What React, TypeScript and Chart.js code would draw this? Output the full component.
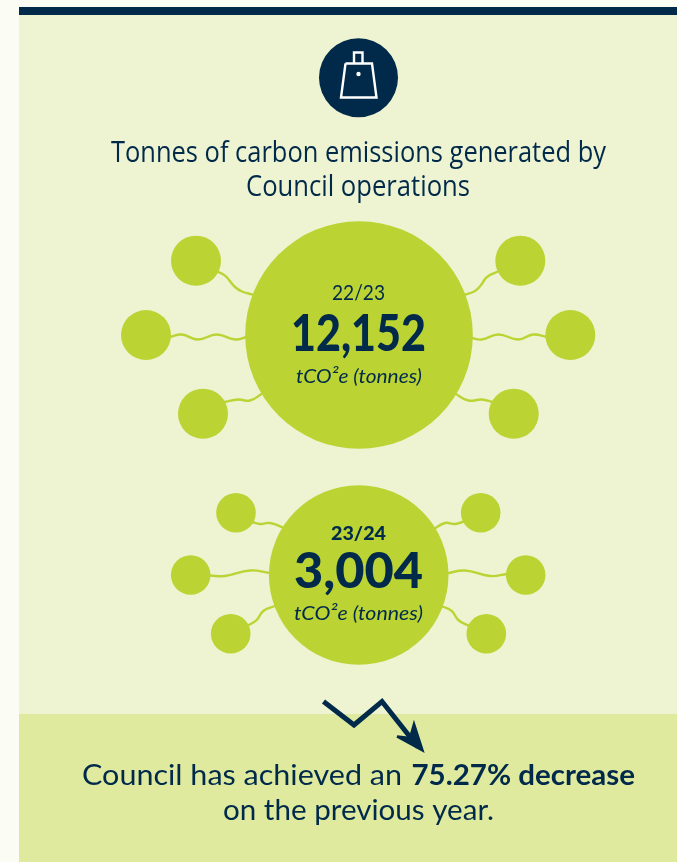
import React, { useEffect, useRef } from "react";
import { Chart, registerables } from "chart.js";

Chart.register(...registerables);

type P = { x: number; y: number; r?: number };

const NAVY = "#012A4A";
const LIME = "#BBD333";

const periods = ["22/23", "23/24"];
const emissions = [12152, 3004];
const unitLabel = "tCO²e (tonnes)";
const decreasePct = 75.27;

const mainBubbles: P[] = [
  { x: 359, y: 335, r: 113.8 },
  { x: 358.7, y: 575, r: 89.8 },
];
const satellitesLarge: P[] = [
  { x: 196, y: 260.7, r: 25 },
  { x: 146, y: 335, r: 25 },
  { x: 203, y: 413.7, r: 25 },
  { x: 520.3, y: 260.7, r: 25 },
  { x: 570.3, y: 335, r: 25 },
  { x: 513.7, y: 413.7, r: 25 },
];
const satellitesSmall: P[] = [
  { x: 236, y: 512.7, r: 19.8 },
  { x: 190.7, y: 575, r: 19.8 },
  { x: 230.7, y: 633.7, r: 19.8 },
  { x: 480.7, y: 512.7, r: 19.8 },
  { x: 525.7, y: 575, r: 19.8 },
  { x: 486.3, y: 633.7, r: 19.8 },
];

const conn1: P[] = [{ x: 216, y: 271 }, { x: 225, y: 275.7 }, { x: 235, y: 287 }, { x: 242, y: 291.5 }, { x: 254, y: 295 }];
const conn2: P[] = [{ x: 170, y: 337 }, { x: 181.7, y: 334.5 }, { x: 198, y: 339.5 }, { x: 216.7, y: 334.5 }, { x: 235, y: 339.5 }, { x: 247, y: 337 }];
const conn3: P[] = [{ x: 224, y: 402 }, { x: 238.3, y: 399.5 }, { x: 250, y: 400.5 }, { x: 263, y: 393 }];
const conn4: P[] = [{ x: 464, y: 295 }, { x: 475, y: 291 }, { x: 481, y: 285 }, { x: 487, y: 277 }, { x: 499, y: 271 }];
const conn5: P[] = [{ x: 471, y: 338 }, { x: 481.7, y: 339.5 }, { x: 498.3, y: 334.5 }, { x: 518.3, y: 339.5 }, { x: 533.3, y: 334.5 }, { x: 547, y: 337 }];
const conn6: P[] = [{ x: 455, y: 393.5 }, { x: 468.3, y: 400.5 }, { x: 481.7, y: 399.5 }, { x: 493, y: 402 }];
const conn7: P[] = [{ x: 252, y: 522 }, { x: 260, y: 524 }, { x: 270, y: 523 }, { x: 283, y: 527.5 }];
const conn8: P[] = [{ x: 210, y: 575.5 }, { x: 225, y: 576 }, { x: 250, y: 570.5 }, { x: 270, y: 573 }];
const conn9: P[] = [{ x: 248, y: 625.5 }, { x: 256.7, y: 620 }, { x: 263.3, y: 611 }, { x: 275, y: 606 }];
const conn10: P[] = [{ x: 434, y: 529 }, { x: 445, y: 523 }, { x: 455, y: 524 }, { x: 464, y: 521.5 }];
const conn11: P[] = [{ x: 447, y: 573.3 }, { x: 465, y: 570.5 }, { x: 490, y: 576 }, { x: 507, y: 574 }];
const conn12: P[] = [{ x: 441, y: 606 }, { x: 451.7, y: 611 }, { x: 458.3, y: 620 }, { x: 469, y: 626 }];
const connectors = [conn1, conn2, conn3, conn4, conn5, conn6, conn7, conn8, conn9, conn10, conn11, conn12];

const iconDisc: P[] = [{ x: 358.5, y: 77.7, r: 39.5 }];
const iconHole: P[] = [{ x: 358.5, y: 74, r: 2.2 }];
const bagBody: P[] = [{ x: 345.5, y: 63.5 }, { x: 372, y: 63.5 }, { x: 376.5, y: 97.5 }, { x: 341, y: 97.5 }, { x: 345.5, y: 63.5 }];
const bagHandle: P[] = [{ x: 354, y: 63.5 }, { x: 354, y: 52.5 }, { x: 362.5, y: 52.5 }, { x: 362.5, y: 63.5 }];

const arrowShaft: P[] = [{ x: 323.5, y: 701.5 }, { x: 354, y: 725 }, { x: 382, y: 701.5 }, { x: 418, y: 747 }];
const arrowHead: P[] = [{ x: 397, y: 736.5 }, { x: 422.5, y: 750.5 }, { x: 414, y: 724 }, { x: 410, y: 738 }, { x: 397, y: 736.5 }];

const fitText = (
  ctx: CanvasRenderingContext2D,
  text: string,
  font: string,
  left: number,
  right: number,
  baseline: number,
  color = NAVY
) => {
  ctx.save();
  ctx.font = font;
  ctx.fillStyle = color;
  ctx.textAlign = "left";
  ctx.textBaseline = "alphabetic";
  const w = ctx.measureText(text).width;
  ctx.translate(left, baseline);
  ctx.scale((right - left) / w, 1);
  ctx.fillText(text, 0, 0);
  ctx.restore();
};

const textPlugin = {
  id: "infographicText",
  afterDatasetsDraw(chart: any) {
    const ctx = chart.ctx as CanvasRenderingContext2D;
    const fmt = (n: number) => n.toLocaleString("en-US");
    const T = '"Open Sans"';
    const L = "Lato";
    fitText(ctx, "Tonnes of carbon emissions generated by", `400 30px ${T}`, 111, 606, 161.5);
    fitText(ctx, "Council operations", `400 30px ${T}`, 246, 470, 195.5);
    fitText(ctx, periods[0], `400 21px ${L}`, 332, 385, 300);
    fitText(ctx, fmt(emissions[0]), `900 52px ${L}`, 291, 426, 350.5);
    fitText(ctx, unitLabel, `italic 400 20px ${L}`, 296, 422, 382.5);
    fitText(ctx, periods[1], `900 19px ${L}`, 331, 386, 539.5);
    fitText(ctx, fmt(emissions[1]), `900 49px ${L}`, 294, 423, 587.5);
    fitText(ctx, unitLabel, `italic 400 20px ${L}`, 294, 423, 620);
    fitText(ctx, "Council has achieved an", `400 29px ${L}`, 82, 402, 785);
    fitText(ctx, `${decreasePct}% decrease`, `700 29px ${L}`, 411.5, 635, 785);
    fitText(ctx, "on the previous year.", `400 29px ${L}`, 223, 494, 819.5);
  },
};

export default function App() {
  const ref = useRef<HTMLCanvasElement>(null);
  useEffect(() => {
    if (!ref.current) return;
    const lineDs = (data: P[], color: string, width: number, tension: number, order: number) => ({
      type: "line" as const,
      data,
      borderColor: color,
      borderWidth: width,
      tension,
      capBezierPoints: false,
      pointRadius: 0,
      fill: false,
      order,
      clip: false,
      borderJoinStyle: "miter" as const,
      borderCapStyle: "butt" as const,
    });
    const bubbleDs = (data: P[], color: string, order: number) => ({
      type: "bubble" as const,
      data,
      backgroundColor: color,
      borderWidth: 0,
      hoverRadius: 0,
      clip: false,
      order,
    });
    const chart = new Chart(ref.current, {
      type: "bubble",
      data: {
        datasets: [
          ...connectors.map((c) => lineDs(c, LIME, 2.4, 0.45, 9)),
          bubbleDs(mainBubbles, LIME, 5),
          bubbleDs(satellitesLarge, LIME, 5),
          bubbleDs(satellitesSmall, LIME, 5),
          bubbleDs(iconDisc, NAVY, 5),
          bubbleDs(iconHole, "#FFFFFF", 1),
          lineDs(bagBody, "#FFFFFF", 2.4, 0, 2),
          lineDs(bagHandle, "#FFFFFF", 2.4, 0, 2),
          lineDs(arrowShaft, NAVY, 5, 0, 3),
          { ...lineDs(arrowHead, NAVY, 2.5, 0, 3), fill: "shape", backgroundColor: NAVY },
        ] as any,
      },
      options: {
        animation: false,
        responsive: false,
        events: [],
        layout: { padding: 0, autoPadding: false },
        plugins: { legend: { display: false }, tooltip: { enabled: false }, title: { display: false } },
        scales: {
          x: { type: "linear", min: 0, max: 677, display: false },
          y: { type: "linear", min: 0, max: 862, reverse: true, display: false },
        },
      } as any,
      plugins: [textPlugin],
    });
    return () => chart.destroy();
  }, []);

  const box = (left: number, top: number, width: number, height: number, background: string) => (
    <div style={{ position: "absolute", left, top, width, height, background }} />
  );

  return (
    <div style={{ position: "fixed", left: 0, top: 0, width: 677, height: 862, overflow: "hidden", background: "#FBFCF4" }}>
      {box(18.5, 14, 659, 700, "#EEF4D2")}
      {box(18.5, 714, 659, 148, "#DFEA9F")}
      {box(18.5, 7, 659, 7.5, NAVY)}
      <canvas ref={ref} width={677} height={862} style={{ position: "absolute", left: 0, top: 0, display: "block" }} />
    </div>
  );
}
